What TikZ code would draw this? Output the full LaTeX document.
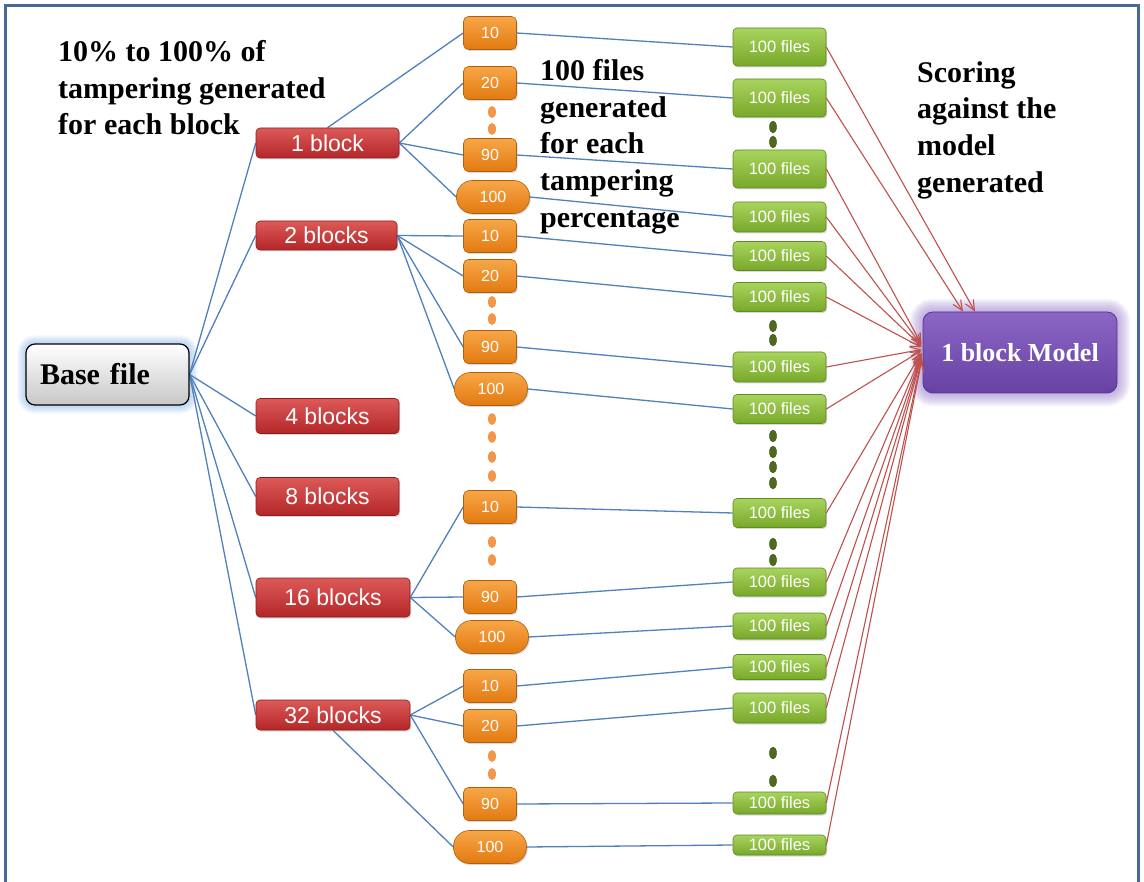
\documentclass[tikz,border=0pt]{standalone}
\usepackage{fontspec}
\setmainfont{Liberation Serif}
\setsansfont{Liberation Sans}
\usetikzlibrary{arrows.meta,shadows,backgrounds,shapes.geometric}

\definecolor{linkblue}{HTML}{4F81BD}
\definecolor{arrowred}{HTML}{C0504D}
\definecolor{frameblue}{HTML}{4A6896}
\definecolor{redtop}{HTML}{DC5A58}
\definecolor{redbot}{HTML}{B42628}
\definecolor{redline}{HTML}{8E1E1E}
\definecolor{orgtop}{HTML}{F8A648}
\definecolor{orgbot}{HTML}{E27A10}
\definecolor{orgline}{HTML}{B0600C}
\definecolor{orgdot}{HTML}{F2964A}
\definecolor{grntop}{HTML}{A8D45E}
\definecolor{grnbot}{HTML}{78A82A}
\definecolor{grnline}{HTML}{5E8A22}
\definecolor{grndot}{HTML}{4E6A1C}
\definecolor{purtop}{HTML}{8C66C4}
\definecolor{purbot}{HTML}{6742A4}
\definecolor{purline}{HTML}{55358C}
\definecolor{purglow}{HTML}{9B7FD0}
\definecolor{blueglow}{HTML}{7FAEEA}

\tikzset{
  softshadow/.style={drop shadow={opacity=0.3, shadow xshift=1.2pt, shadow yshift=-1.5pt}},
  blockbox/.style={draw=redline, line width=0.6pt, top color=redtop, bottom color=redbot,
    rounded corners=4pt, inner sep=0pt, text=white, softshadow,
    font=\sffamily\fontsize{23}{23}\selectfont},
  pctbox/.style={draw=orgline, line width=0.6pt, top color=orgtop, bottom color=orgbot,
    rounded corners=5pt, inner sep=0pt, minimum width=53pt, minimum height=33pt,
    text=white, softshadow, font=\sffamily\fontsize{16}{16}\selectfont},
  pctpill/.style={pctbox, minimum width=73pt, rounded corners=16pt},
  filesbox/.style={draw=grnline, line width=0.6pt, top color=grntop, bottom color=grnbot,
    rounded corners=4pt, inner sep=0pt, minimum width=93pt,
    text=white, softshadow, font=\sffamily\fontsize{16.5}{16.5}\selectfont},
  odot/.style={ellipse, fill=orgdot, minimum width=8pt, minimum height=12pt, inner sep=0pt},
  gdot/.style={ellipse, fill=grndot, draw=grndot!70!black, line width=0.4pt,
    minimum width=7pt, minimum height=12pt, inner sep=0pt},
  link/.style={draw=linkblue, line width=1.3pt},
  score/.style={draw=arrowred, line width=1.1pt, -{Straight Barb[length=10pt,width=9pt]}},
  note/.style={inner sep=0pt, align=left, font=\bfseries\fontsize{30}{36.7}\selectfont},
}

\begin{document}
\begin{tikzpicture}[x=1pt,y=-1pt]
\useasboundingbox (0,0) rectangle (1144,882);

% frame
\draw[frameblue, line width=3pt] (5.5,882) -- (5.5,5.5) -- (1138,5.5) -- (1138,882);

% annotations
\node[note, anchor=north west] (noteA) at (58,40)
  {10\% to 100\% of\\tampering generated\\for each block};
\node[note, anchor=north west] (noteB) at (540,59)
  {100 files\\generated\\for each\\tampering\\percentage};
\node[note, anchor=north west] (noteC) at (917,61)
  {Scoring\\against the\\model\\generated};

% source file
\node[draw=black, line width=1.2pt, rounded corners=9pt, top color=white,
  bottom color=black!22, minimum width=163pt, minimum height=61pt, inner sep=0pt,
  text width=135pt, align=left, font=\bfseries\fontsize{30}{30}\selectfont]
  (base) at (107.5,374.5) {Base file};

% block counts
\node[blockbox, minimum width=143pt, minimum height=30pt] (b1)  at (327.5,143)   {1 block};
\node[blockbox, minimum width=141pt, minimum height=29pt] (b2)  at (326.5,235.5) {2 blocks};
\node[blockbox, minimum width=143pt, minimum height=35pt] (b4)  at (327.5,416)   {4 blocks};
\node[blockbox, minimum width=143pt, minimum height=38pt] (b8)  at (327.5,496.5) {8 blocks};
\node[blockbox, minimum width=154pt, minimum height=39pt] (b16) at (333,597.5)   {16 blocks};
\node[blockbox, minimum width=154pt, minimum height=30pt] (b32) at (333,715)     {32 blocks};

% tampering percentages
\node[pctbox]  (o1a) at (490,33)  {10};
\node[pctbox]  (o1b) at (490,83)  {20};
\node[pctbox]  (o1c) at (490,155) {90};
\node[pctpill] (o1d) at (493,197) {100};
\node[pctbox]  (o2a) at (490,236) {10};
\node[pctbox]  (o2b) at (490,276) {20};
\node[pctbox]  (o2c) at (490,347) {90};
\node[pctpill] (o2d) at (491,389) {100};
\node[pctbox]  (o3a) at (490,507) {10};
\node[pctbox]  (o3c) at (490,597) {90};
\node[pctpill] (o3d) at (492,637) {100};
\node[pctbox]  (o4a) at (490,686) {10};
\node[pctbox]  (o4b) at (490,726) {20};
\node[pctbox]  (o4c) at (490,804) {90};
\node[pctpill] (o4d) at (490,847) {100};

\foreach \y [count=\i] in {112,129,302,319,419,437,457,476,542,560,756,774}
  \node[odot] (od\i) at (492,\y) {};

% generated file sets
\foreach \y/\h [count=\i] in {47/38, 98/38, 169/38, 217/30, 256/29, 297/29, 367/30,
    409/29, 513/29, 582/28, 626/26, 667/25, 708/30, 803/22, 845/20}
  \node[filesbox, minimum height=\h pt] (g\i) at (779.5,\y) {100 files};

\foreach \y [count=\i] in {127,142,326,340,436,452,467,483,544,560,753,781}
  \node[gdot] (gd\i) at (773,\y) {};

% model
\node[draw=purline, line width=0.8pt, rounded corners=10pt, top color=purtop,
  bottom color=purbot, minimum width=194pt, minimum height=81pt, inner sep=0pt,
  text=white, font=\bfseries\fontsize{26}{26}\selectfont]
  (model) at (1020,352.5) {1 block Model};

\begin{scope}[on background layer]
  \fill[white] (0,0) rectangle (1144,882);
  % glows
  \foreach \w in {2,4,...,16}
    \draw[blueglow, line width=\w pt, opacity=0.07, rounded corners=9pt]
      (base.south west) rectangle (base.north east);
  \foreach \w in {2,4,...,26}
    \draw[purglow, line width=\w pt, opacity=0.06, rounded corners=10pt]
      (model.south west) rectangle (model.north east);

  % base file to block counts
  \foreach \b in {b1,b2,b4,b8,b16,b32}
    \draw[link] (base.east) -- (\b.west);

  % block counts to percentages
  \draw[link] (b1.north) -- (o1a.west);
  \foreach \o in {o1b,o1c,o1d} \draw[link] (b1.east) -- (\o.west);
  \foreach \o in {o2a,o2b,o2c,o2d} \draw[link] (b2.east) -- (\o.west);
  \foreach \o in {o3a,o3c,o3d} \draw[link] (b16.east) -- (\o.west);
  \foreach \o in {o4a,o4b,o4c} \draw[link] (b32.east) -- (\o.west);
  \draw[link] (b32.south) -- (o4d.west);

  % percentages to file sets
  \foreach \o/\g in {o1a/g1,o1b/g2,o1c/g3,o1d/g4,o2a/g5,o2b/g6,o2c/g7,o2d/g8,
      o3a/g9,o3c/g10,o3d/g11,o4a/g12,o4b/g13,o4c/g14,o4d/g15}
    \draw[link] (\o.east) -- (\g.west);
\end{scope}

% scoring arrows
\draw[score] (g1.east) -- ([xshift=-45pt]model.north);
\draw[score] (g2.east) -- ([xshift=-57pt]model.north);
\foreach \g/\d in {g3/8, g4/7, g5/6, g6/5, g7/3, g8/2, g9/0, g10/-1, g11/-2,
    g12/-3, g13/-4, g14/-6, g15/-8}
  \draw[score] (\g.east) -- ([xshift=-1pt, yshift=\d pt]model.west);
\end{tikzpicture}
\end{document}
